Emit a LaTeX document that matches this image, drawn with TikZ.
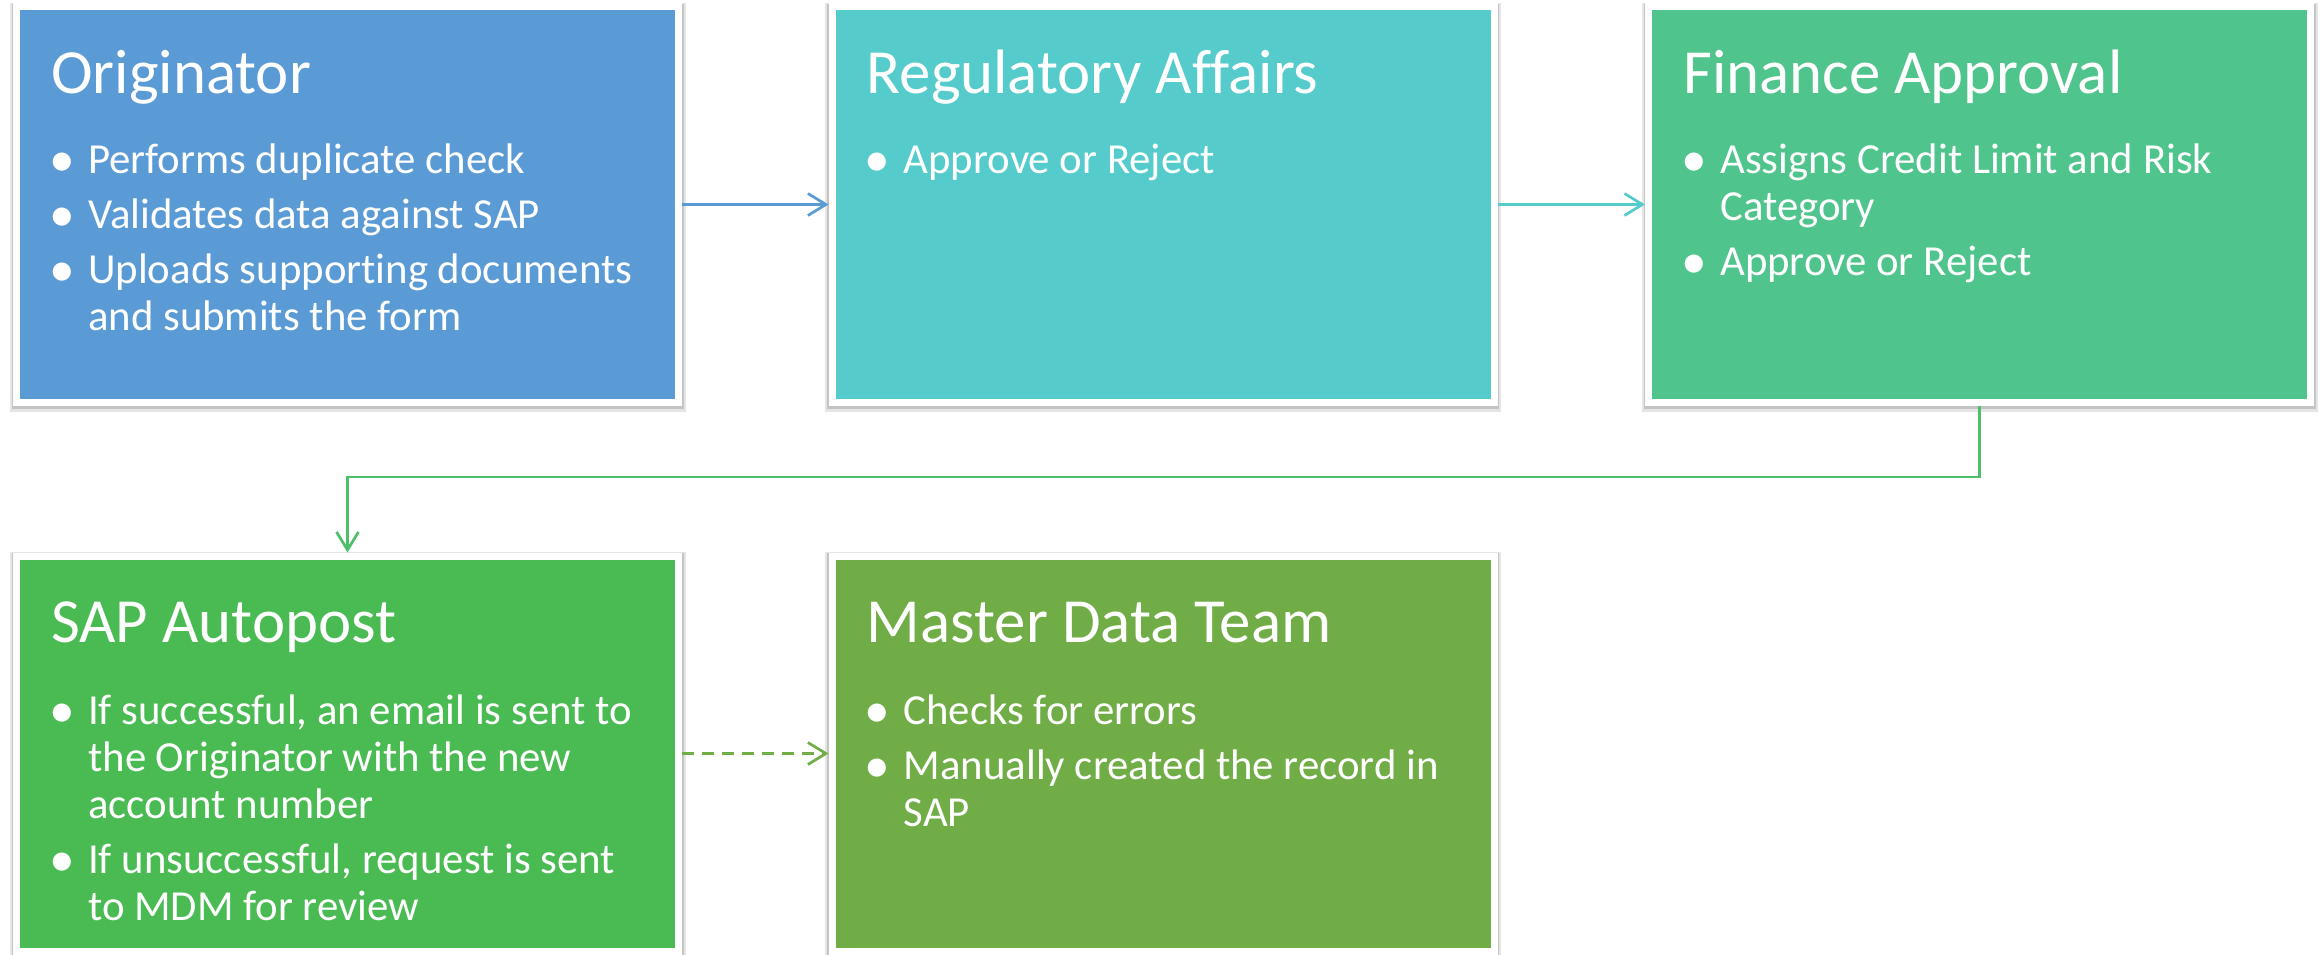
\documentclass[tikz,border=0pt]{standalone}
\usepackage{fontspec}
\setmainfont{Carlito}[Ligatures=NoCommon]
\usetikzlibrary{arrows.meta,calc}
\definecolor{cA}{HTML}{5B9BD5}
\definecolor{cB}{HTML}{56CBCC}
\definecolor{cC}{HTML}{50C48D}
\definecolor{cD}{HTML}{4ABB52}
\definecolor{cE}{HTML}{70AD47}
\definecolor{cF}{HTML}{4DBF68}
\newcommand{\blist}[1]{\parbox[t]{640pt}{\raggedright\setlength{\parskip}{8pt}#1}}
\newcommand{\bi}{\par\noindent\hangindent=37pt\hangafter=1\makebox[22pt][c]{\raisebox{-2.5pt}{\scalebox{1.2}{\textbullet}}}\hspace{15pt}\ignorespaces}
\tikzset{
  box/.style={rectangle, draw=white, line width=7pt, outer sep=3.5pt,
    minimum width=662pt, minimum height=395pt, inner sep=0pt,
    preaction={draw=black, opacity=.10, line width=14pt, transform canvas={yshift=-3pt}},
    preaction={draw=black, opacity=.14, line width=10pt, transform canvas={yshift=-2pt}}},
  ttl/.style={anchor=base west, inner sep=0pt, text=white, font=\fontsize{62.8}{70}\selectfont},
  bl/.style={anchor=base west, inner sep=0pt, text=white, font=\fontsize{42.8}{47}\selectfont},
  link/.style={line width=2.7pt, -{Straight Barb[length=18pt,width=22pt]}},
}
\begin{document}
\begin{tikzpicture}[x=1pt,y=-1pt]
\useasboundingbox (0,0) rectangle (2320,955);
\fill[white] (0,0) rectangle (2320,955);
% boxes
\node[box, fill=cA] (orig) at (347.5,204.5) {};
\node[box, fill=cB] (reg) at (1163,204.5) {};
\node[box, fill=cC] (fin) at (1979.5,204.5) {};
\node[box, fill=cD] (sap) at (347.5,753.5) {};
\node[box, fill=cE] (mdt) at (1163,753.5) {};
% titles
\node[ttl] (origT) at ($(orig.north west)+(38,90)$) {Originator};
\node[ttl] (regT) at ($(reg.north west)+(38,90)$) {Regulatory Affairs};
\node[ttl] (finT) at ($(fin.north west)+(38,90)$) {Finance Approval};
\node[ttl] (sapT) at ($(sap.north west)+(38,90)$) {SAP Autopost};
\node[ttl] (mdtT) at ($(mdt.north west)+(38,90)$) {Master Data Team};
% bullets
\node[bl] (origB) at ($(orig.north west)+(38,170)$) {\blist{%
  \bi Performs duplicate check
  \bi Validates data against SAP
  \bi Uploads supporting documents\newline and submits the form}};
\node[bl] (regB) at ($(reg.north west)+(38,170)$) {\blist{%
  \bi Approve or Reject}};
\node[bl] (finB) at ($(fin.north west)+(38,170)$) {\blist{%
  \bi Assigns Credit Limit and Risk\newline Category
  \bi Approve or Reject}};
\node[bl] (sapB) at ($(sap.north west)+(38,172)$) {\blist{%
  \bi If successful, an email is sent to\newline the Originator with the new\newline account number
  \bi If unsuccessful, request is sent\newline to MDM for review}};
\node[bl] (mdtB) at ($(mdt.north west)+(38,172)$) {\blist{%
  \bi Checks for errors
  \bi Manually created the record in\newline SAP}};
% connectors
\draw[link, cA] (orig) -- (reg);
\draw[link, cB] (reg) -- (fin);
\coordinate (turn) at (0,477);
\draw[link, cF] (fin.south) -- (fin.south |- turn) -| (sap.north);
\draw[link, cE, dash pattern=on 12pt off 8pt] (sap) -- (mdt);
\end{tikzpicture}
\end{document}
